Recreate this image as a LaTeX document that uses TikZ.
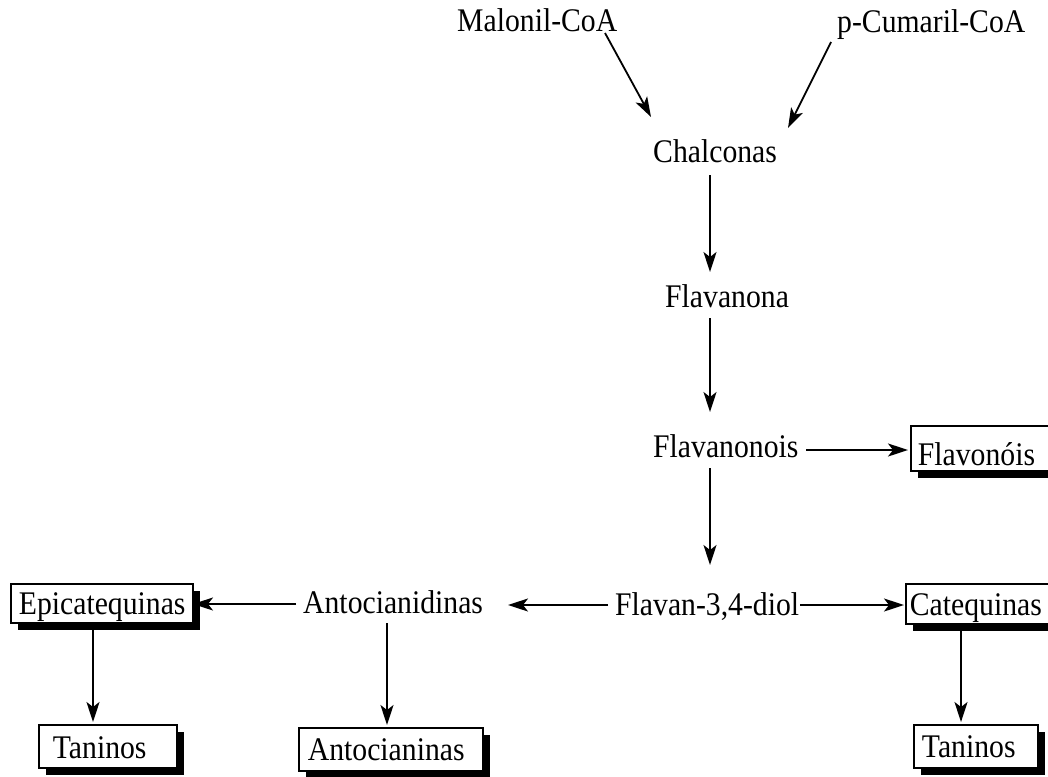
\documentclass[tikz,border=0pt]{standalone}
\usepackage{fontspec}
\setmainfont{Liberation Serif}[FakeStretch=0.9]
\usetikzlibrary{arrows.meta,calc,shadows}
\tikzset{
  lbl/.style={inner sep=0pt, anchor=base west, font=\fontsize{33}{40}\selectfont},
  bx/.style={draw, line width=1.8pt, fill=white, inner xsep=0pt, inner ysep=0pt,
    align=left, anchor=north west, font=\fontsize{33}{40}\selectfont,
    drop shadow={shadow xshift=7pt, shadow yshift=-7pt, fill=black, opacity=1}},
  arr/.style={line width=1.8pt, -{Stealth[length=20pt,width=13pt,inset=5pt]}},
}
\begin{document}
\begin{tikzpicture}[x=1pt,y=-1pt]
\useasboundingbox (0,0) rectangle (1048,776);
% labels
\node[lbl] (mal) at (457,32) {Malonil-CoA};
\node[lbl] (cum) at (837,33) {p-Cumaril-CoA};
\node[lbl] (chal) at (653,162) {Chalconas};
\node[lbl] (flava) at (665,307) {Flavanona};
\node[lbl] (flavo) at (653,457) {Flavanonois};
\node[lbl] (diol) at (615,615) {Flavan-3,4-diol};
\node[lbl] (anto) at (303,613) {Antocianidinas};
% boxes
\node[bx, text width=150pt, text height=40pt, text depth=5pt] (flavonois) at (910,425) {\hspace*{7pt}Flavonóis};
\node[bx, text width=182pt, text height=31pt, text depth=8pt] (epicat) at (10,583) {\hspace*{8pt}Epicatequinas};
\node[bx, text width=150pt, text height=32pt, text depth=8pt] (catequinas) at (905,583) {\hspace*{4pt}Catequinas};
\node[bx, text width=138pt, text height=34pt, text depth=9pt] (tanL) at (38,724) {\hspace*{14pt}Taninos};
\node[bx, text width=184pt, text height=33pt, text depth=10pt] (antocianinas) at (298,727) {\hspace*{9pt}Antocianinas};
\node[bx, text width=124pt, text height=33pt, text depth=10pt] (tanR) at (913,724) {\hspace*{8pt}Taninos};
% connectors
\draw[arr] ($(mal.base west)+(148,1)$) -- ($(chal.base west)+(-2,-45)$);
\draw[arr] ($(cum.base west)+(-6,9)$) -- ($(chal.base west)+(135,-34)$);
\draw[arr] ($(chal.base west)+(57,13)$) -- ($(flava.base west)+(45,-35)$);
\draw[arr] ($(flava.base west)+(45,11)$) -- ($(flavo.base west)+(57,-45)$);
\draw[arr] ($(flavo.base west)+(153,-7)$) -- ($(flavonois.north west)+(-2,25)$);
\draw[arr] ($(flavo.base west)+(57,11)$) -- ($(diol.base west)+(95,-50)$);
\draw[arr] ($(diol.base west)+(-7,-10)$) -- ($(anto.base west)+(205,-8)$);
\draw[arr] ($(anto.base west)+(-7,-9)$) -- ($(epicat.north west)+(183,21)$);
\draw[arr] ($(diol.base west)+(185,-10)$) -- ($(catequinas.north west)+(-1,22)$);
\draw[arr] ($(epicat.south west)+(83,0)$) -- ($(tanL.north west)+(55,-2)$);
\draw[arr] ($(anto.base west)+(84,10)$) -- ($(antocianinas.north west)+(89,-2)$);
\draw[arr] ($(catequinas.south west)+(56,0)$) -- ($(tanR.north west)+(48,-2)$);
\end{tikzpicture}
\end{document}
